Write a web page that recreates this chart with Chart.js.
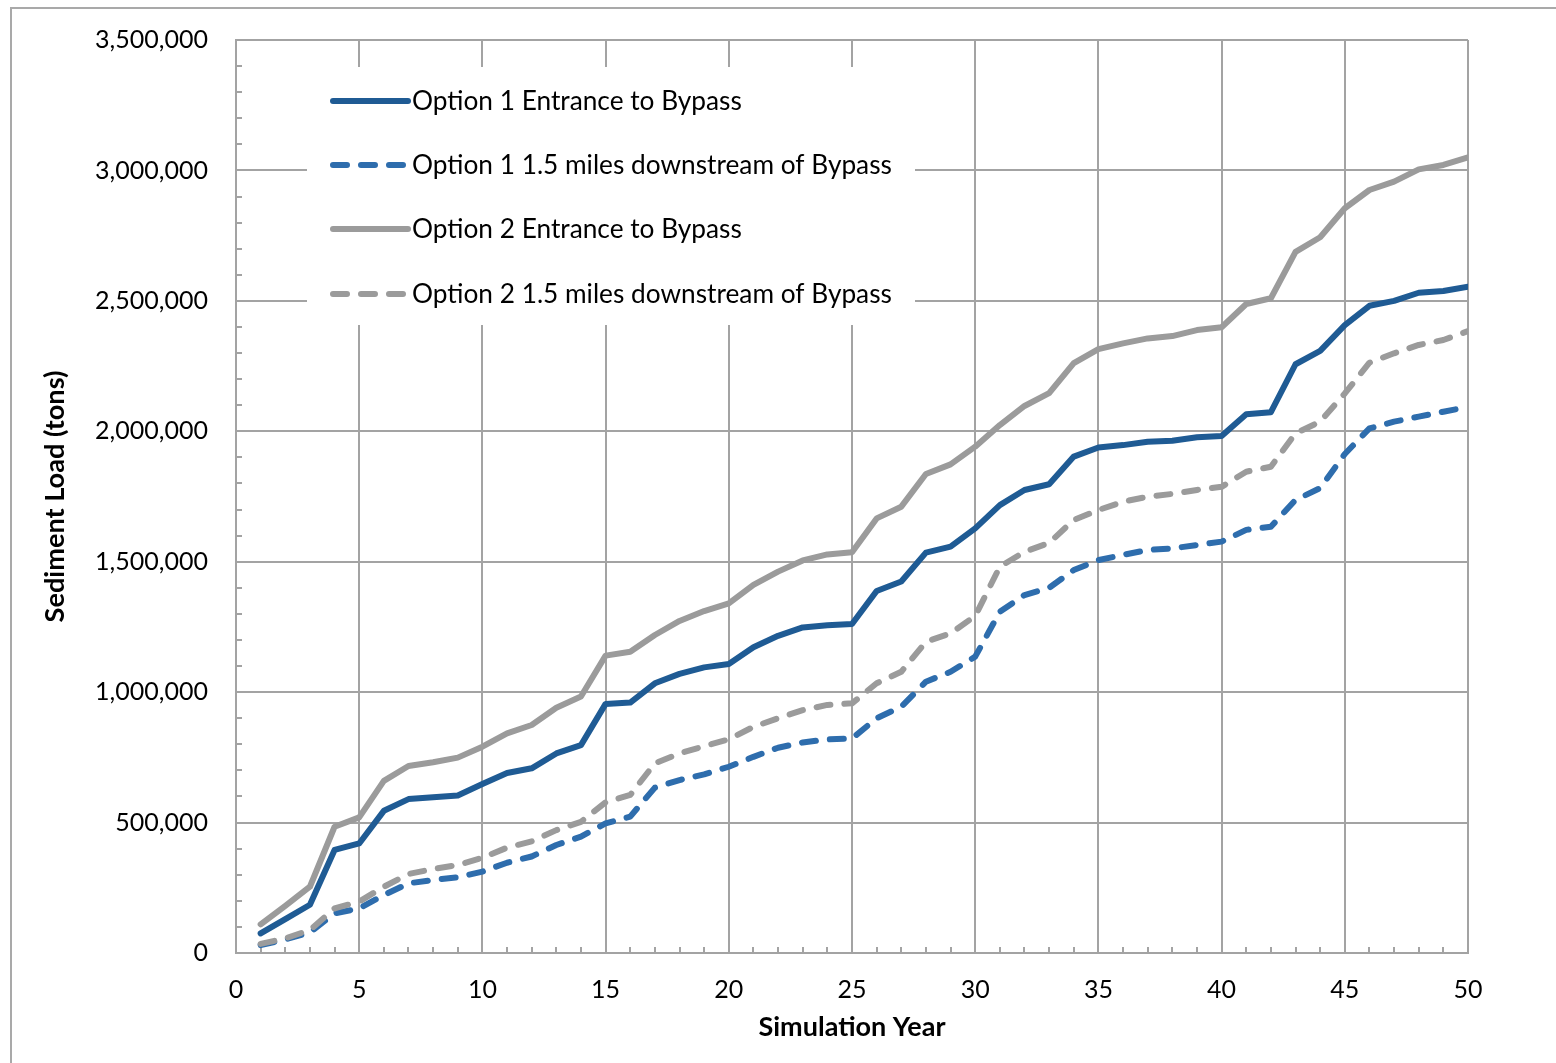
<!DOCTYPE html>
<html><head><meta charset="utf-8">
<script src="https://cdn.jsdelivr.net/npm/chart.js@4.4.1/dist/chart.umd.min.js"></script>
<style>
html,body{margin:0;padding:0;background:#fff;overflow:hidden;width:1556px;height:1063px}
#frame{position:absolute;left:10px;top:7px;width:1600px;height:1100px;border:2px solid #a9a9a9;background:#fff}
#wrap{position:absolute;left:0;top:0;width:1556px;height:1063px}
</style></head><body>
<div id="frame"></div>
<div id="wrap"><canvas id="c" width="1556" height="1063"></canvas></div>
<script>
const years = [1,2,3,4,5,6,7,8,9,10,11,12,13,14,15,16,17,18,19,20,21,22,23,24,25,26,27,28,29,30,31,32,33,34,35,36,37,38,39,40,41,42,43,44,45,46,47,48,49,50];
const seriesNames = ["Option 1 Entrance to Bypass","Option 1 1.5 miles downstream of Bypass","Option 2 Entrance to Bypass","Option 2 1.5 miles downstream of Bypass"];
const option1Entrance = [75000,130000,185000,395000,420000,545000,590000,597000,604000,648000,690000,708000,765000,797000,955000,960000,1034000,1070000,1095000,1108000,1172000,1216000,1248000,1256000,1261000,1388000,1424000,1535000,1558000,1628000,1717000,1775000,1797000,1903000,1938000,1947000,1960000,1964000,1977000,1982000,2065000,2073000,2257000,2308000,2407000,2481000,2500000,2531000,2538000,2554000];
const option1Downstream = [30000,52000,79000,152000,171000,222000,267000,280000,290000,312000,346000,370000,414000,446000,497000,523000,634000,663000,685000,714000,752000,787000,807000,819000,822000,900000,944000,1040000,1078000,1136000,1308000,1372000,1400000,1468000,1506000,1526000,1545000,1551000,1564000,1577000,1622000,1634000,1737000,1782000,1913000,2011000,2037000,2056000,2075000,2093000];
const option2Entrance = [110000,181000,254000,484000,520000,660000,717000,731000,749000,791000,842000,874000,940000,983000,1140000,1155000,1219000,1273000,1311000,1340000,1411000,1462000,1505000,1528000,1536000,1666000,1711000,1836000,1873000,1941000,2024000,2097000,2146000,2261000,2315000,2337000,2356000,2365000,2388000,2399000,2488000,2510000,2688000,2744000,2855000,2925000,2957000,3004000,3021000,3050000];
const option2Downstream = [35000,56000,88000,171000,197000,254000,303000,322000,337000,365000,404000,428000,471000,503000,578000,606000,727000,765000,793000,819000,867000,900000,931000,951000,957000,1034000,1078000,1193000,1225000,1292000,1481000,1538000,1572000,1660000,1698000,1730000,1749000,1760000,1775000,1787000,1845000,1864000,1992000,2037000,2145000,2263000,2299000,2331000,2350000,2384000];
const yTickValues = [0,500000,1000000,1500000,2000000,2500000,3000000,3500000];
const xTickValues = [0,5,10,15,20,25,30,35,40,45,50];

const FAMILY = 'Lato, "Open Sans", "Liberation Sans", sans-serif';
function fitSize(text, target, weight){
  const cv = document.createElement('canvas').getContext('2d');
  cv.font = (weight||'normal') + ' 100px ' + FAMILY;
  return 100 * target / cv.measureText(text).width;
}
const yTickSize = fitSize('3,500,000', 113);
const xTickSize = fitSize('50', 29);
const legendSize = fitSize(seriesNames[1], 480);
const yTitleSize = fitSize('Sediment Load (tons)', 252, 'bold');
const xTitleSize = fitSize('Simulation Year', 187, 'bold');

const GRID = '#a3a3a3';
const styles = [
  {color:'#1f5b94', dash:[]},
  {color:'#2e6dad', dash:[14,14]},
  {color:'#9b9b9b', dash:[]},
  {color:'#9b9b9b', dash:[14,14]}
];
const allSeries = [option1Entrance, option1Downstream, option2Entrance, option2Downstream];

const datasets = allSeries.map((arr,i)=>({
  label: seriesNames[i],
  data: years.map((yr,k)=>({x:yr, y:arr[k]})),
  borderColor: styles[i].color,
  borderDash: styles[i].dash,
  borderWidth: 6,
  borderCapStyle: 'round',
  borderJoinStyle: 'round',
  pointRadius: 0,
  tension: 0,
  fill: false,
  order: 3 - i
}));

const minorTicks = {
  id:'minorTicks',
  beforeDatasetsDraw(chart){
    const {ctx, scales:{x,y}} = chart;
    ctx.save();
    ctx.strokeStyle = GRID; ctx.lineWidth = 2;
    ctx.beginPath();
    for(let v=100000; v<3500000; v+=100000){
      const py = Math.round(y.getPixelForValue(v));
      ctx.moveTo(x.left, py); ctx.lineTo(x.left+6, py);
    }
    for(let v=1; v<50; v++){
      const px = Math.round(x.getPixelForValue(v));
      ctx.moveTo(px, y.bottom); ctx.lineTo(px, y.bottom-6);
    }
    ctx.stroke();
    ctx.restore();
  }
};

const boxLegend = {
  id:'boxLegend',
  afterDatasetsDraw(chart){
    const {ctx, scales:{x,y}} = chart;
    const left = x.left, top = y.top;
    ctx.save();
    ctx.fillStyle = '#fff';
    ctx.fillRect(left+71, top+27, 608, 258);
    const rows = [61,125,189,254];
    ctx.font = legendSize.toFixed(2) + 'px ' + FAMILY;
    ctx.textBaseline = 'middle';
    ctx.textAlign = 'left';
    seriesNames.forEach((name,i)=>{
      const cy = top + rows[i];
      ctx.strokeStyle = styles[i].color;
      ctx.lineWidth = 6;
      ctx.lineCap = 'round';
      ctx.setLineDash(styles[i].dash);
      ctx.beginPath();
      ctx.moveTo(left+97, cy); ctx.lineTo(left+172, cy);
      ctx.stroke();
      ctx.setLineDash([]);
      ctx.fillStyle = '#000';
      ctx.fillText(name, left+176, cy+1);
    });
    ctx.restore();
  }
};

new Chart(document.getElementById('c'), {
  type:'line',
  data:{datasets},
  options:{
    responsive:false,
    animation:false,
    layout:{padding:{top:40,right:88,bottom:0,left:0}},
    plugins:{legend:{display:false}, tooltip:{enabled:false}},
    scales:{
      x:{
        type:'linear', min:0, max:50,
        afterFit(s){ s.height = 110; s.paddingLeft = 10; s.paddingRight = 10; },
        afterBuildTicks(s){ s.ticks = xTickValues.map(v=>({value:v})); },
        grid:{color:GRID, lineWidth:2, drawTicks:false},
        border:{display:true, color:GRID, width:2},
        ticks:{color:'#000', padding:22, maxRotation:0, font:{family:FAMILY, size:xTickSize}},
        title:{display:true, text:'Simulation Year', color:'#000', font:{family:FAMILY, size:xTitleSize, weight:'bold'}, padding:{top:0, bottom:20}}
      },
      y:{
        type:'linear', min:0, max:3500000,
        afterFit(s){ s.width = 236; s.paddingTop = 10; s.paddingBottom = 10; },
        afterBuildTicks(s){ s.ticks = yTickValues.map(v=>({value:v})); },
        grid:{color:GRID, lineWidth:2, drawTicks:false},
        border:{display:true, color:GRID, width:2},
        ticks:{color:'#000', padding:28, font:{family:FAMILY, size:yTickSize},
          callback:(v)=>Number(v).toLocaleString('en-US')},
        title:{display:true, text:'Sediment Load (tons)', color:'#000', font:{family:FAMILY, size:yTitleSize, weight:'bold'}, padding:{top:39, bottom:0}}
      }
    }
  },
  plugins:[minorTicks, boxLegend]
});
</script>
</body></html>
